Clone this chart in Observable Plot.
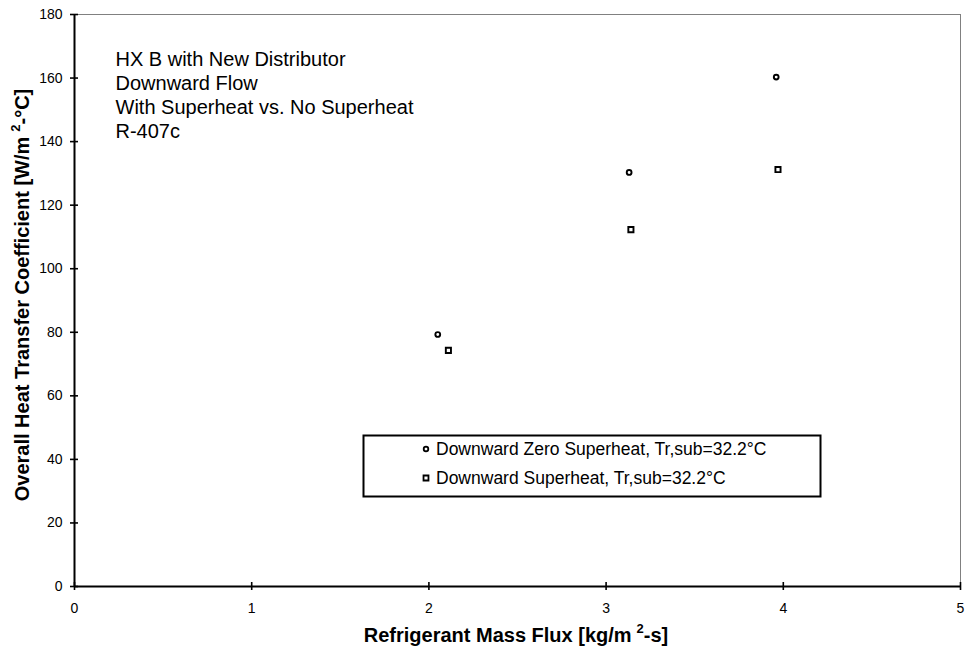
<!DOCTYPE html>
<html><head><meta charset="utf-8">
<script src="https://cdn.jsdelivr.net/npm/d3@7"></script>
<script src="https://cdn.jsdelivr.net/npm/@observablehq/plot@0.6"></script>
<style>body{margin:0;background:#fff}</style>
</head><body><div id="chart"></div>
<script>
const seriesNames = ["Downward Zero Superheat, Tr,sub=32.2°C", "Downward Superheat, Tr,sub=32.2°C"];
const zeroX = [2.05, 3.13, 3.96];
const zeroY = [79.3, 130.3, 160.3];
const superX = [2.11, 3.14, 3.97];
const superY = [74.3, 112.3, 131.2];
const xTicks = [0, 1, 2, 3, 4, 5];
const yTicks = [0, 20, 40, 60, 80, 100, 120, 140, 160, 180];
const noteLines = ["HX B with New Distributor", "Downward Flow", "With Superheat vs. No Superheat", "R-407c"];
const xTitle = ["Refrigerant Mass Flux [kg/m", "2", "-s]"];
const yTitle = ["Overall Heat Transfer Coefficient [W/m", "2", "-°C]"];

const zeroData = zeroX.map((x, i) => ({x, y: zeroY[i]}));
const superData = superX.map((x, i) => ({x, y: superY[i]}));
const font = "Liberation Sans, Arial, sans-serif";

const plot = Plot.plot({
  width: 967, height: 654,
  marginLeft: 74, marginRight: 7, marginTop: 14, marginBottom: 68,
  style: {fontFamily: font, fontSize: "14px", color: "#000", background: "#fff"},
  x: {domain: [0, 5]},
  y: {domain: [0, 180]},
  marks: [
    Plot.ruleY([180], {stroke: "#808080", strokeWidth: 1}),
    Plot.ruleX([5], {stroke: "#808080", strokeWidth: 1}),
    Plot.ruleY([0], {stroke: "#000", strokeWidth: 2}),
    Plot.ruleX([0], {stroke: "#000", strokeWidth: 2}),
    Plot.axisX(xTicks, {tickSize: 8, dy: -4, text: null, label: null, strokeWidth: 1.6}),
    Plot.axisX(xTicks, {tickSize: 0, tickPadding: 17, tickFormat: "d", fontSize: 14, label: null}),
    Plot.axisY(yTicks, {tickSize: 8, dx: 4, text: null, label: null, strokeWidth: 1.6}),
    Plot.axisY(yTicks, {tickSize: 0, tickPadding: 12, tickFormat: "d", fontSize: 14, label: null}),
    Plot.dot(zeroData, {x: "x", y: "y", r: 2.4, symbol: "circle", stroke: "#000", strokeWidth: 1.9, fill: "#fff"}),
    Plot.dot(superData, {x: "x", y: "y", r: 2.9, symbol: "square", stroke: "#000", strokeWidth: 1.9, fill: "#fff"}),
    ...noteLines.map((t, i) => Plot.text([t], {x: 0, y: 180, dx: 41, dy: 51 + i * 24, textAnchor: "start", lineAnchor: "bottom", fontSize: 20, fill: "#000"}))
  ]
});
const svg = d3.select(plot);
// axis titles with superscripts
function title(sel, parts) {
  sel.append("tspan").text(parts[0]);
  sel.append("tspan").attr("font-size", 13).attr("dx", 5).attr("dy", -9).text(parts[1]);
  sel.append("tspan").attr("dy", 9).text(parts[2]);
}
const xt = svg.append("text").attr("x", 516).attr("y", 642).attr("text-anchor", "middle")
  .attr("font-family", font).attr("font-size", 20).attr("font-weight", "bold").attr("fill", "#000");
title(xt, xTitle);
const yt = svg.append("text").attr("transform", "translate(29,295) rotate(-90)").attr("text-anchor", "middle")
  .attr("font-family", font).attr("font-size", 20).attr("font-weight", "bold").attr("fill", "#000");
title(yt, yTitle);
// legend box
const g = svg.append("g").attr("font-family", font).attr("font-size", 17.5).attr("text-anchor", "start");
g.append("rect").attr("x", 363.5).attr("y", 435.5).attr("width", 457).attr("height", 61).attr("fill", "#fff").attr("stroke", "#000").attr("stroke-width", 2);
const sym = [d3.symbolCircle, d3.symbolSquare];
const sz = [Math.PI * 2.3 * 2.3, Math.PI * 2.8 * 2.8];
seriesNames.forEach((name, i) => {
  const cy = 449 + i * 29;
  g.append("path").attr("d", d3.symbol(sym[i], sz[i])()).attr("transform", `translate(426,${cy})`).attr("fill", "#fff").attr("stroke", "#000").attr("stroke-width", 1.8);
  g.append("text").attr("x", 436).attr("y", cy).attr("dy", "0.35em").attr("fill", "#000").text(name);
});
document.getElementById("chart").append(plot);
</script>
</body></html>
